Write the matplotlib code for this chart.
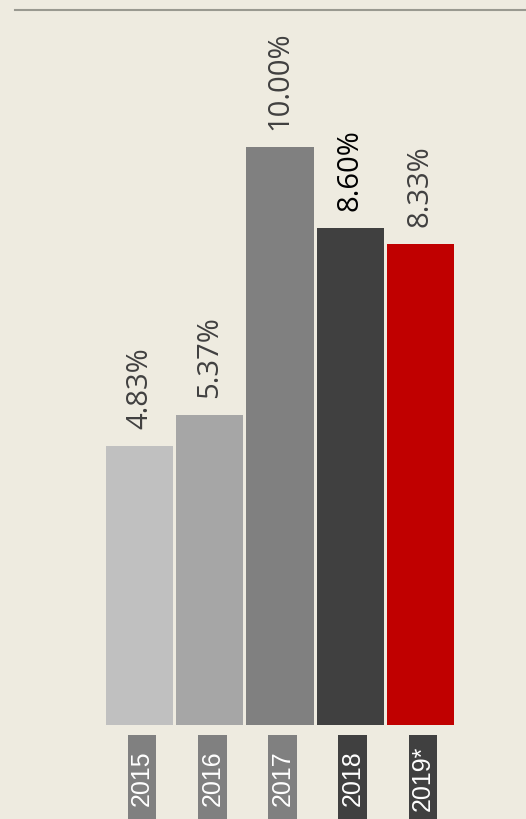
import matplotlib
matplotlib.use("Agg")
import matplotlib.pyplot as plt
from matplotlib.patches import Rectangle
from matplotlib.lines import Line2D
import matplotlib.transforms as mtransforms

years = ["2015", "2016", "2017", "2018", "2019*"]
values = [4.83, 5.37, 10.00, 8.60, 8.33]
labels = ["4.83%", "5.37%", "10.00%", "8.60%", "8.33%"]
bar_colors = ["#c0c0c0", "#a6a6a6", "#808080", "#404040", "#c00000"]
label_colors = ["#404040", "#404040", "#404040", "#000000", "#404040"]
box_colors = ["#808080", "#808080", "#808080", "#404040", "#404040"]

W, H = 526, 819
bg = "#eeebe0"
fig = plt.figure(figsize=(W / 100, H / 100), dpi=100, facecolor=bg)

ax_left, ax_right = 106, 454
ax_bottom, ax_top = 725, 10
ax = fig.add_axes([ax_left / W, (H - ax_bottom) / H, (ax_right - ax_left) / W, (ax_bottom - ax_top) / H])
ax.set_facecolor(bg)
width = 0.957
x = list(range(len(years)))
ax.bar(x, values, width=width, color=bar_colors, edgecolor="none")
ax.set_xlim(-width / 2, 4 + width / 2)
ax.set_ylim(0, (ax_bottom - ax_top) / 57.8)
ax.axis("off")

# value labels
offset = mtransforms.offset_copy(ax.transData, fig=fig, x=0, y=17, units="dots")
for xi, v, lab, c in zip(x, values, labels, label_colors):
    ax.text(xi, v, lab, transform=offset, rotation=90, ha="center", va="bottom",
            fontsize=21, color=c, family="Open Sans")

# year label boxes
blend = mtransforms.blended_transform_factory(ax.transData, fig.transFigure)
box_w = 28.5 / 70.2
for xi, yr, bc in zip(x, years, box_colors):
    cx = xi + 0.035
    r = Rectangle((cx - box_w / 2, -0.05), box_w, (H - 735) / H + 0.05, transform=blend,
                  facecolor=bc, edgecolor="none", clip_on=False, zorder=2)
    fig.add_artist(r)
    fig.text(cx, (H - 778) / H, yr, transform=blend, rotation=90, ha="center", va="center",
             fontsize=18, color="white", family="Liberation Sans", zorder=3)

# top rule
fig.add_artist(Line2D([15 / W, 1.0], [(H - 10) / H, (H - 10) / H], transform=fig.transFigure,
                      color="#999990", linewidth=1.5))

fig.savefig("out.png", dpi=100, facecolor=bg)
